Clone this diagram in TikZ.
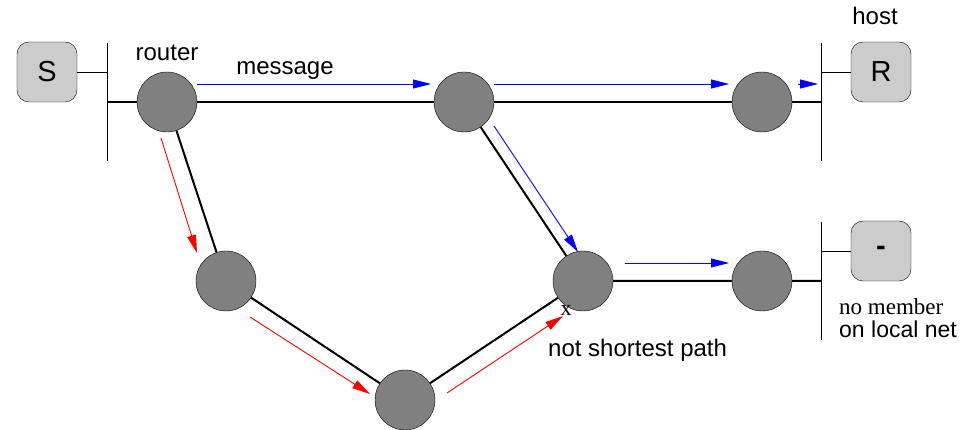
\documentclass[tikz,border=0pt]{standalone}
\usepackage{fontspec}
\setmainfont{Liberation Sans}
\newfontfamily\serifface{Liberation Serif}
\usetikzlibrary{arrows.meta}

\tikzset{
	router/.style={circle, draw=black, fill=black!50, minimum size=60pt, inner sep=0pt},
	hostbox/.style={draw=black, fill=black!20, rounded corners=12pt, minimum size=60pt, inner sep=0pt, font=\fontsize{29}{32}\selectfont},
	label/.style={font=\fontsize{24}{28}\selectfont, inner sep=0pt},
	small label/.style={font=\fontsize{23}{26}\selectfont, inner sep=0pt},
	link/.style={line width=2pt},
	wire/.style={line width=0.9pt},
	msg/.style={blue, line width=0.9pt, -{Triangle[length=18pt,width=9pt]}},
	detour/.style={red, line width=0.9pt, -{Triangle[length=18pt,width=9pt]}}
}

\begin{document}
\begin{tikzpicture}[x=1pt,y=-1pt]
	\useasboundingbox (0,0) rectangle (978,430);

	% the local nets
	\coordinate (sTop) at (107,43);
	\coordinate (sBot) at (107,161);
	\coordinate (sHost) at (107,72);
	\coordinate (sJoin) at (107,102);
	\coordinate (rTop) at (821,43);
	\coordinate (rBot) at (821,161);
	\coordinate (rHost) at (821,72);
	\coordinate (rJoin) at (821,102);
	\coordinate (nTop) at (821,222);
	\coordinate (nBot) at (821,340);
	\coordinate (nHost) at (821,251);
	\coordinate (nJoin) at (821,281);

	% hosts
	\node[hostbox] (S) at (47,72) {S};
	\node[hostbox] (R) at (881,72) {R};
	\node[hostbox] (N) at (881,251) {\textbf{-}};

	% routers
	\node[router] (r1) at (167,102) {};
	\node[router] (r2) at (464,102) {};
	\node[router] (r3) at (762,102) {};
	\node[router] (r4) at (583,281) {};
	\node[router] (r5) at (762,281) {};
	\node[router] (r6) at (226,281) {};
	\node[router] (r7) at (405,400) {};

	\draw[wire] (sTop) -- (sBot);
	\draw[wire] (rTop) -- (rBot);
	\draw[wire] (nTop) -- (nBot);
	\draw[wire] (S) -- (sHost);
	\draw[wire] (R) -- (rHost);
	\draw[wire] (N) -- (nHost);

	\draw[link] (sJoin) -- (r1) -- (r2) -- (r3) -- (rJoin);
	\draw[link] (r1) -- (r6) -- (r7) -- (r4) -- (r5) -- (nJoin);
	\draw[link] (r2) -- (r4);

	% message flow
	\coordinate (m1) at (197,84);
	\coordinate (m2) at (431,84);
	\coordinate (m3) at (494,84);
	\coordinate (m4) at (729,84);
	\coordinate (m5) at (798,84);
	\coordinate (m6) at (818,84);
	\coordinate (m7) at (494,126);
	\coordinate (m8) at (578,252);
	\coordinate (m9) at (625,263);
	\coordinate (m10) at (729,263);
	\draw[msg] (m1) -- (m2);
	\draw[msg] (m3) -- (m4);
	\draw[msg] (m5) -- (m6);
	\draw[msg] (m7) -- (m8);
	\draw[msg] (m9) -- (m10);

	\coordinate (d1) at (161,138);
	\coordinate (d2) at (197,253);
	\coordinate (d3) at (250,317);
	\coordinate (d4) at (370,394);
	\coordinate (d5) at (447,393);
	\coordinate (d6) at (563,316);
	\draw[detour] (d1) -- (d2);
	\draw[detour] (d3) -- (d4);
	\draw[detour] (d5) -- (d6);

	% texts
	\node[label, anchor=base] (lRouter) at (167,61) {router};
	\node[label, anchor=base] (lMessage) at (285,75) {message};
	\node[label, anchor=base] (lHost) at (875,25) {host};
	\node[label, anchor=base west] (lPath) at (548,357) {not shortest path};
	\node[small label, anchor=base west] (lNo) at (839,315) {\serifface no member};
	\node[small label, anchor=base west] (lLocal) at (839,338) {on local net};
	\node[label, anchor=base, font=\fontsize{22}{25}\selectfont\serifface] (lX) at (566,316) {x};
\end{tikzpicture}
\end{document}
